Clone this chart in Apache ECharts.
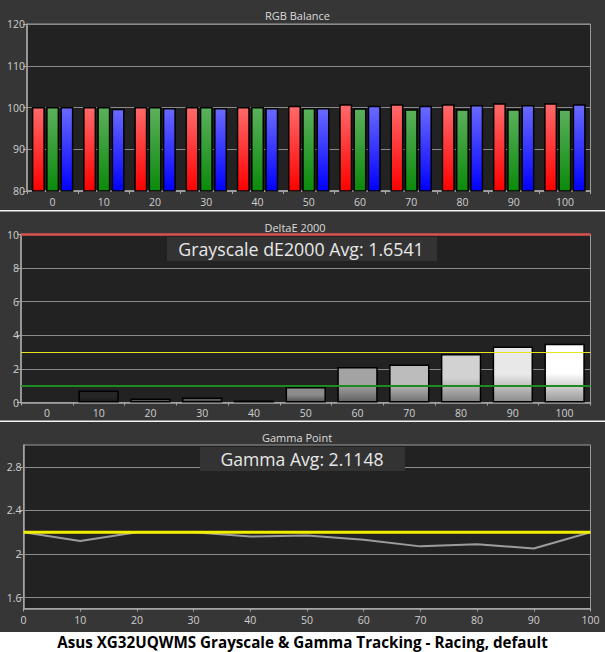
<!DOCTYPE html>
<html>
<head>
<meta charset="utf-8">
<script src="https://cdn.jsdelivr.net/npm/echarts@6/dist/echarts.min.js"></script>
<style>
html,body{margin:0;padding:0;background:#363636;}
#c{width:605px;height:652px;}
</style>
</head>
<body>
<div id="c"></div>
<script>
// ---------- data ----------
const categories = ['0','10','20','30','40','50','60','70','80','90','100'];
const rgbRed   = [100.1,100.1,100.1,100.1,100.1,100.4,100.8,100.8,100.8,101.0,101.0];
const rgbGreen = [100.1,100.1,100.1,100.1,100.1, 99.9, 99.8, 99.6, 99.6, 99.6, 99.6];
const rgbBlue  = [100.1, 99.7, 99.9, 99.9, 99.9, 99.9,100.4,100.4,100.6,100.6,100.8];
const deltaE   = [0, 0.71, 0.24, 0.30, 0.12, 0.93, 2.12, 2.26, 2.89, 3.33, 3.50];
const deltaEHigh = 10;
const deltaEMid = 3;
const deltaELow = 1;
const gammaX      = [0,10,20,30,40,50,60,70,80,90,100];
const gammaValues = [2.20,2.12,2.20,2.20,2.16,2.17,2.13,2.07,2.09,2.05,2.20];
const gammaTarget = 2.2;
const gammaTicks  = [1.6, 2.0, 2.4, 2.8];
const titleRGB   = 'RGB Balance';
const titleDE    = 'DeltaE 2000';
const titleGamma = 'Gamma Point';
const deAvgText    = 'Grayscale dE2000 Avg: 1.6541';
const gammaAvgText = 'Gamma Avg: 2.1148';
const chartTitle   = 'Asus XG32UQWMS Grayscale & Gamma Tracking - Racing, default';

// ---------- styles ----------
const FONT = '"Open Sans", "Noto Sans", sans-serif';
const labelColor = '#cfcfcf';
const axisColor = '#a8a8a8';
const gridColor = '#8a8a8a';
const plotBg = '#222222';

function vgrad(top, bottom, mid) {
  return new echarts.graphic.LinearGradient(0, 0, 0, 1, [
    {offset: 0, color: top},
    {offset: mid === undefined ? 0.0 : mid, color: top},
    {offset: 1, color: bottom}
  ]);
}
const barShades = ['#111111','#262626','#555555','#5c5c5c','#666666','#8c8c8c','#a3a3a3','#bcbcbc','#d2d2d2','#e8e8e8','#ffffff'];
function darker(hex, f) {
  const n = parseInt(hex.slice(1), 16);
  const r = Math.round(((n >> 16) & 255) * f), g = Math.round(((n >> 8) & 255) * f), b = Math.round((n & 255) * f);
  return 'rgb(' + r + ',' + g + ',' + b + ')';
}

const catAxis = (gi) => ({
  type: 'category', gridIndex: gi, data: categories,
  axisLine: {show: true, lineStyle: {color: axisColor, width: 1.5}},
  axisTick: {show: true, length: 3, lineStyle: {color: axisColor}},
  axisLabel: {color: labelColor, fontSize: 10.5, fontFamily: FONT, margin: 5},
  splitLine: {show: false}
});
const valAxisBase = {
  axisLine: {show: true, lineStyle: {color: axisColor, width: 1.5}},
  axisTick: {show: true, length: 4, lineStyle: {color: axisColor}},
  axisLabel: {color: labelColor, fontSize: 10.5, fontFamily: FONT, margin: 2},
  splitLine: {show: true, lineStyle: {color: gridColor, width: 1}}
};

const chart = echarts.init(document.getElementById('c'), null, {renderer: 'svg'});

const option = {
  backgroundColor: '#363636',
  animation: false,
  grid: [
    {left: 27, right: 14.5, top: 24, height: 167, show: true, backgroundColor: plotBg, borderColor: '#9a9a9a', borderWidth: 1},
    {left: 21, right: 14.5, top: 234.5, height: 168, show: true, backgroundColor: plotBg, borderColor: '#9a9a9a', borderWidth: 1},
    {left: 23.5, right: 14.5, top: 445, height: 163.5, show: true, backgroundColor: plotBg, borderColor: '#9a9a9a', borderWidth: 1}
  ],
  xAxis: [
    catAxis(0),
    catAxis(1),
    {
      type: 'value', gridIndex: 2, min: 0, max: 100, interval: 10,
      axisLine: {show: true, lineStyle: {color: axisColor, width: 1.5}},
      axisTick: {show: true, length: 3, lineStyle: {color: axisColor}},
      axisLabel: {color: labelColor, fontSize: 10.5, fontFamily: FONT, margin: 6},
      splitLine: {show: false}
    }
  ],
  yAxis: [
    Object.assign({type: 'value', gridIndex: 0, min: 80, max: 120, interval: 10}, valAxisBase),
    Object.assign({type: 'value', gridIndex: 1, min: 0, max: 10, interval: 2}, valAxisBase),
    {
      type: 'value', gridIndex: 2, min: 1.5, max: 3.0,
      axisLine: {show: true, lineStyle: {color: axisColor, width: 1.5}},
      axisTick: {show: true, length: 4, lineStyle: {color: axisColor}, customValues: gammaTicks},
      axisLabel: {color: labelColor, fontSize: 10.5, fontFamily: FONT, margin: 2, customValues: gammaTicks},
      splitLine: {show: false}
    }
  ],
  series: [
    {
      name: 'R', type: 'bar', xAxisIndex: 0, yAxisIndex: 0, data: rgbRed,
      barGap: '10%', barCategoryGap: '19%',
      itemStyle: {color: vgrad('#ff6a6a', '#ff0000', 0), borderColor: '#000', borderWidth: 1.5}
    },
    {
      name: 'G', type: 'bar', xAxisIndex: 0, yAxisIndex: 0, data: rgbGreen,
      barGap: '10%', barCategoryGap: '19%',
      itemStyle: {color: vgrad('#5cb05c', '#0a8a0a', 0), borderColor: '#000', borderWidth: 1.5}
    },
    {
      name: 'B', type: 'bar', xAxisIndex: 0, yAxisIndex: 0, data: rgbBlue,
      barGap: '10%', barCategoryGap: '19%',
      itemStyle: {color: vgrad('#6a6aff', '#0000ff', 0), borderColor: '#000', borderWidth: 1.5}
    },
    {
      name: 'dE', type: 'bar', xAxisIndex: 1, yAxisIndex: 1,
      barCategoryGap: '22%',
      data: deltaE.map((v, i) => ({
        value: v,
        itemStyle: {
          color: vgrad(barShades[i], darker(barShades[i], 0.6), 0.5),
          borderWidth: v > 0 ? 1.5 : 0
        }
      })),
      itemStyle: {borderColor: '#000', borderWidth: 1.5},
      markLine: {
        silent: true, symbol: ['none', 'none'], label: {show: false},
        data: [
          {yAxis: deltaEHigh, lineStyle: {color: '#d9534f', width: 2.5, type: 'solid'}},
          {yAxis: deltaEMid, lineStyle: {color: '#e6e61e', width: 1.2, type: 'solid'}},
          {yAxis: deltaELow, lineStyle: {color: '#1f8a1f', width: 2, type: 'solid'}}
        ]
      }
    },
    {
      name: 'gammaGrid', type: 'line', xAxisIndex: 2, yAxisIndex: 2, z: 1,
      data: gammaX.map((x, i) => [x, gammaValues[i]]),
      symbol: 'none', silent: true, lineStyle: {opacity: 0},
      markLine: {
        silent: true, symbol: ['none', 'none'], label: {show: false},
        lineStyle: {color: gridColor, width: 1, type: 'solid'},
        data: gammaTicks.map(v => ({yAxis: v}))
      }
    },
    {
      name: 'Gamma', type: 'line', xAxisIndex: 2, yAxisIndex: 2, z: 3,
      data: gammaX.map((x, i) => [x, gammaValues[i]]),
      symbol: 'none', lineStyle: {color: '#9c9c9c', width: 2}
    },
    {
      name: 'Target', type: 'line', xAxisIndex: 2, yAxisIndex: 2, z: 4,
      data: gammaX.map(x => [x, gammaTarget]),
      symbol: 'none', lineStyle: {color: '#f0f000', width: 3}
    }
  ],
  graphic: [
    {type: 'rect', z: 100, shape: {x: 0, y: 210, width: 605, height: 1.5}, style: {fill: '#f2f2f2'}},
    {type: 'rect', z: 100, shape: {x: 0, y: 420.5, width: 605, height: 1.5}, style: {fill: '#f2f2f2'}},
    {type: 'rect', z: 100, shape: {x: 0, y: 632, width: 605, height: 20}, style: {fill: '#ffffff'}},
    {type: 'text', z: 101, x: 297.5, y: 15, style: {text: titleRGB, fill: '#dcdcdc', font: '11px ' + FONT, textAlign: 'center', textVerticalAlign: 'middle'}},
    {type: 'text', z: 101, x: 295, y: 227, style: {text: titleDE, fill: '#dcdcdc', font: '11px ' + FONT, textAlign: 'center', textVerticalAlign: 'middle'}},
    {type: 'text', z: 101, x: 297, y: 437, style: {text: titleGamma, fill: '#dcdcdc', font: '11px ' + FONT, textAlign: 'center', textVerticalAlign: 'middle'}},
    {type: 'rect', z: 100, shape: {x: 167, y: 237, width: 270, height: 24}, style: {fill: '#333333'}},
    {type: 'text', z: 101, x: 301, y: 249, style: {text: deAvgText, fill: '#e8e8e8', font: '17.8px ' + FONT, textAlign: 'center', textVerticalAlign: 'middle'}},
    {type: 'rect', z: 100, shape: {x: 200, y: 447, width: 205, height: 24}, style: {fill: '#333333'}},
    {type: 'text', z: 101, x: 302, y: 459, style: {text: gammaAvgText, fill: '#e8e8e8', font: '17.6px ' + FONT, textAlign: 'center', textVerticalAlign: 'middle'}},
    {type: 'text', z: 101, x: 302.5, y: 642, style: {text: chartTitle, fill: '#000000', font: 'bold 15.2px ' + FONT, textAlign: 'center', textVerticalAlign: 'middle'}}
  ]
};
chart.setOption(option);
</script>
</body>
</html>
